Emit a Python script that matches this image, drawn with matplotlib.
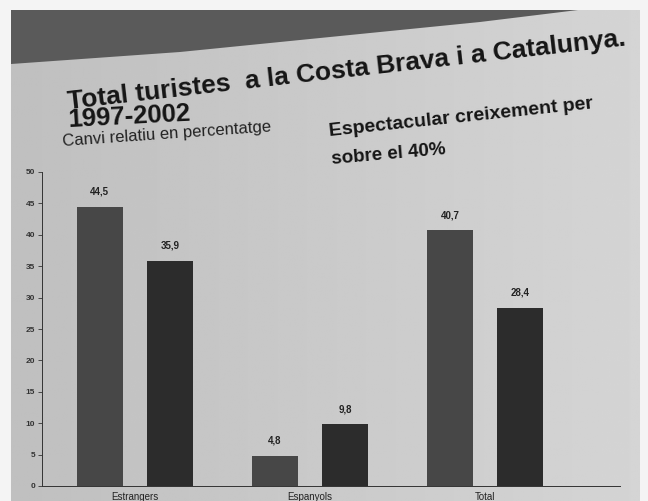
import matplotlib
matplotlib.use("Agg")
import matplotlib.pyplot as plt
import numpy as np
from matplotlib.patches import Polygon

categories = ["Estrangers", "Espanyols", "Total"]
costa_brava = [44.5, 4.8, 40.7]
catalunya = [35.9, 9.8, 28.4]
labels_cb = ["44,5", "4,8", "40,7"]
labels_cat = ["35,9", "9,8", "28,4"]
yticks = list(range(0, 51, 5))

plt.rcParams['font.family'] = ['Liberation Sans', 'DejaVu Sans']

W, H = 648, 501
fig = plt.figure(figsize=(W / 100, H / 100), dpi=100)
fig.patch.set_facecolor("#f4f4f4")

def fx(px):
    return px / W

def fy(py):
    return 1 - py / H

# slide background (photo lighting)
bg = fig.add_axes([fx(11), 0, fx(640) - fx(11), fy(10)], zorder=-10)
grad = np.linspace(0, 1, 256)[None, :] * np.ones((16, 1))
bg.imshow(grad, aspect="auto", cmap="gray", vmin=-9.0, vmax=3.0,
          extent=[0, 1, 0, 1], origin="lower")
bg.set_axis_off()

# dark band at top of the slide photo
band = Polygon([(fx(11), fy(10)), (fx(578), fy(10)), (fx(480), fy(22)),
                (fx(180), fy(52)), (fx(11), fy(64))],
               closed=True, transform=fig.transFigure, facecolor="#5a5a5a",
               edgecolor="none", zorder=1)
fig.patches.append(band)

ax = fig.add_axes([fx(42), fy(486), fx(620) - fx(42), fy(172) - fy(486)])
ax.set_facecolor("none")

x = np.arange(len(categories))
bw = 0.26
off = 0.2
b1 = ax.bar(x - off, costa_brava, bw, color="#474747", zorder=2)
b2 = ax.bar(x + off, catalunya, bw, color="#2c2c2c", zorder=2)

for rect, lab in zip(b1, labels_cb):
    ax.text(rect.get_x() + rect.get_width() / 2, rect.get_height() + 1.6, lab,
            ha="center", va="bottom", fontsize=7, fontweight="bold", color="#222222")
for rect, lab in zip(b2, labels_cat):
    ax.text(rect.get_x() + rect.get_width() / 2, rect.get_height() + 1.6, lab,
            ha="center", va="bottom", fontsize=7, fontweight="bold", color="#222222")

ax.set_xlim(-0.53, 2.77)
ax.set_ylim(0, 50)
ax.set_yticks(yticks)
ax.set_yticklabels([str(v) for v in yticks], fontsize=6, fontweight="bold", color="#333333")
ax.set_xticks(x)
ax.set_xticklabels(categories, fontsize=7, color="#222222")
ax.tick_params(axis="x", length=0, pad=4)
ax.tick_params(axis="y", length=3, width=0.6, color="#333333", pad=2)
for s in ["top", "right"]:
    ax.spines[s].set_visible(False)
for s in ["left", "bottom"]:
    ax.spines[s].set_color("#333333")
    ax.spines[s].set_linewidth(0.7)

fig.text(fx(68), fy(109), "Total turistes  a la Costa Brava i a Catalunya.",
         fontsize=19, fontweight="bold", color="#151515", rotation=6.5,
         rotation_mode="anchor", ha="left", va="baseline")
fig.text(fx(68), fy(127), "1997-2002", fontsize=18.5, fontweight="bold",
         color="#151515", rotation=3, rotation_mode="anchor", ha="left", va="baseline")
fig.text(fx(63), fy(146), "Canvi relatiu en percentatge", fontsize=12,
         color="#222222", rotation=4, rotation_mode="anchor", ha="left", va="baseline")
fig.text(fx(330), fy(136), "Espectacular creixement per", fontsize=14,
         fontweight="bold", color="#151515", rotation=6, rotation_mode="anchor",
         ha="left", va="baseline")
fig.text(fx(332), fy(164), "sobre el 40%", fontsize=13.5, fontweight="bold",
         color="#151515", rotation=5, rotation_mode="anchor", ha="left", va="baseline")

fig.savefig("out.png", dpi=100, facecolor=fig.get_facecolor())
